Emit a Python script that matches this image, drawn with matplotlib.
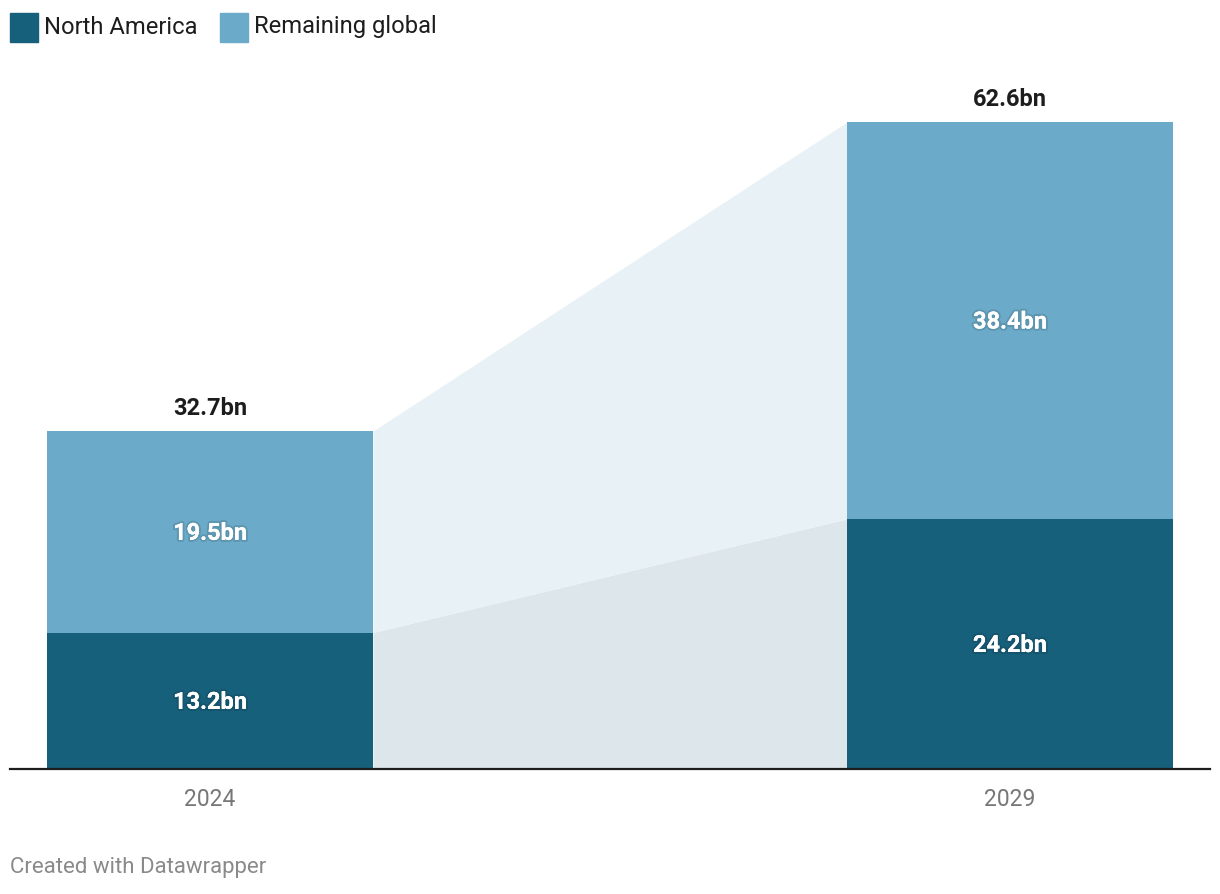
import matplotlib.pyplot as plt
import matplotlib.patheffects as pe
from matplotlib.patches import Rectangle

plt.rcParams['font.family'] = ['Roboto', 'DejaVu Sans']

years = ["2024", "2029"]
north_america = [13.2, 24.2]
remaining = [19.5, 38.4]
totals = [32.7, 62.6]
series_names = ["North America", "Remaining global"]

dark = "#17607b"
light = "#6babc9"
fill_low = "#dce6eb"
fill_high = "#e8f1f6"

fig = plt.figure(figsize=(12.2, 8.94), dpi=100)
ax = fig.add_axes([10 / 1220, 125 / 894, 1200 / 1220, 647 / 894])

x = [0, 1]
w = 0.4075
ax.set_xlim(-0.25, 1.25)
ax.set_ylim(0, totals[1])

# connecting areas between the two bars
xa = [x[0] + w / 2, x[1] - w / 2]
ax.fill_between(xa, [0, 0], north_america, color=fill_low, lw=0, zorder=1)
ax.fill_between(xa, north_america, totals, color=fill_high, lw=0, zorder=1)

ax.bar(x, north_america, width=w, color=dark, zorder=2)
ax.bar(x, remaining, width=w, bottom=north_america, color=light, zorder=2)

shadow = [pe.withStroke(linewidth=3, foreground=(0, 0, 0, 0.12)), pe.Normal()]
for i in range(2):
    ax.text(x[i], north_america[i] / 2 - 0.15, f"{north_america[i]}bn", ha="center", va="center",
            color="white", fontsize=17, fontweight="bold", path_effects=shadow, zorder=3)
    ax.text(x[i], north_america[i] + remaining[i] / 2 - 0.15, f"{remaining[i]}bn", ha="center",
            va="center", color="white", fontsize=17, fontweight="bold", path_effects=shadow, zorder=3)
    ax.text(x[i], totals[i] + 1.1, f"{totals[i]}bn", ha="center", va="bottom",
            color="#1d1d1d", fontsize=17, fontweight="bold", clip_on=False)

ax.set_xticks(x)
ax.set_xticklabels(years, fontsize=16.5, color="#777777")
ax.tick_params(axis="x", length=0, pad=14)
ax.set_yticks([])
for s in ["top", "right", "left"]:
    ax.spines[s].set_visible(False)
ax.spines["bottom"].set_color("#1d1d1d")
ax.spines["bottom"].set_linewidth(1.6)
ax.set_facecolor("none")

# legend
cols = [dark, light]
lx = [10, 220]
for i in range(2):
    fig.patches.append(Rectangle((lx[i] / 1220, 1 - 42 / 894), 28 / 1220, 29 / 894,
                                 transform=fig.transFigure, color=cols[i]))
    fig.text((lx[i] + 34) / 1220, 1 - 27 / 894, series_names[i], fontsize=17.1,
             color="#1d1d1d", va="center", ha="left")

fig.text(10 / 1220, 1 - 868 / 894, "Created with Datawrapper", fontsize=16,
         color="#8a8a8a", va="center", ha="left")

fig.savefig("out.png", dpi=100)
